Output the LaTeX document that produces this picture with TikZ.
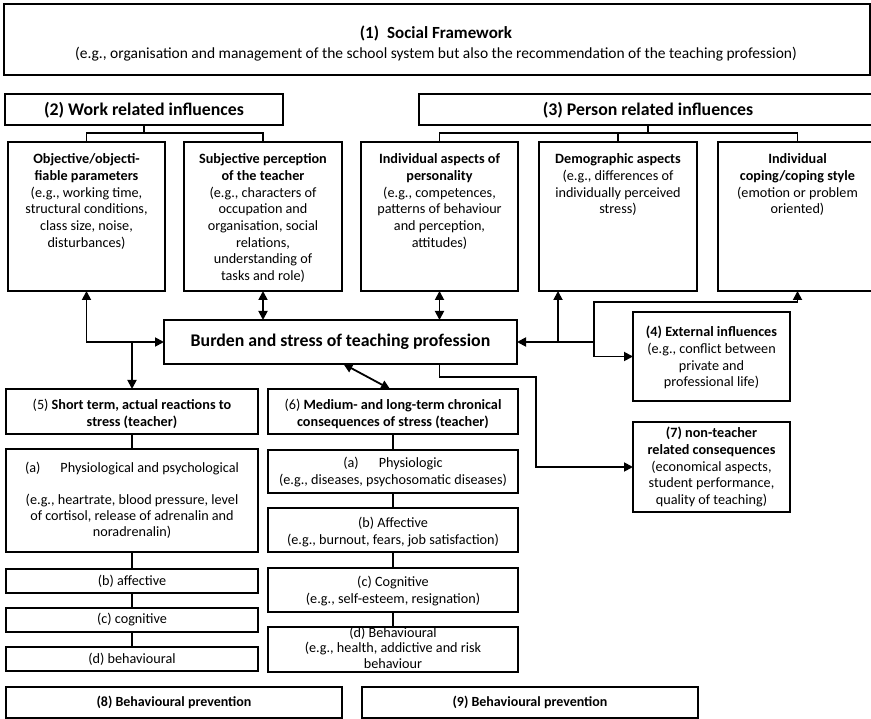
\documentclass[tikz,border=0pt]{standalone}
\usepackage{fontspec}
\setmainfont{Carlito}
\usetikzlibrary{arrows.meta}
% framed panel: name, left, top, right, bottom
\newcommand{\panel}[5]{\node[frame, minimum width={#4-#2}, minimum height={#5-#3}] (#1) at (#2,#3) {};}
\begin{document}
\begin{tikzpicture}[x=1pt,y=-1pt,
  frame/.style={draw, line width=1.8pt, inner sep=0pt, outer sep=0pt, anchor=north west},
  body/.style={font=\fontsize{14.2}{16.7}\selectfont, align=center, inner sep=0pt, anchor=north},
  tight/.style={font=\fontsize{14.2}{15.5}\selectfont, align=center, inner sep=0pt, anchor=north},
  plain/.style={font=\fontsize{14.2}{16}\selectfont, inner sep=0pt},
  head/.style={font=\fontsize{17.8}{20}\selectfont\bfseries, inner sep=0pt},
  small/.style={font=\fontsize{14}{16}\selectfont\bfseries, inner sep=0pt},
  wire/.style={line width=1.8pt},
  arr/.style={wire, -{Triangle[length=9pt,width=9pt]}},
  darr/.style={wire, {Triangle[length=9pt,width=9pt]}-{Triangle[length=9pt,width=9pt]}},
]
\useasboundingbox (0,0) rectangle (871,719);

% ---------- (1) social framework ----------
\panel{social}{4}{4}{870}{75}
\node[font=\fontsize{17}{20}\selectfont\bfseries, inner sep=0pt] (socialt) at (436,33) {(1)\hspace{8pt}Social Framework};
\node[font=\fontsize{15.5}{18}\selectfont, inner sep=0pt] (socials) at (436,54) {(e.g., organisation and management of the school system but also the recommendation of the teaching profession)};

% ---------- (2) work related influences ----------
\panel{work}{5}{94}{283}{125}
\node[head] (workt) at (144,110) {(2) Work related influences};
\panel{obj}{8}{142}{165}{291}
\panel{subj}{184}{142}{342}{291}
\node[body] (objt) at (obj.north |- 0,151.8) {\strut\textbf{Objective/objecti-}\\\textbf{fiable parameters}\\(e.g., working time,\\structural conditions,\\class size, noise,\\disturbances)};
\node[body] (subjt) at (subj.north |- 0,151.8) {\strut\textbf{Subjective perception}\\\textbf{of the teacher}\\(e.g., characters of\\occupation and\\organisation, social\\relations,\\understanding of\\tasks and role)};
\coordinate (wj) at (144,133);
\draw[wire] (work.south) -- (wj);
\draw[wire] (obj.north) |- (wj) -| (subj.north);

% ---------- (3) person related influences ----------
\panel{person}{419}{94}{877}{125}
\node[head] (persont) at (648,110) {(3) Person related influences};
\panel{ind}{361}{142}{518}{291}
\panel{demo}{539}{142}{697}{291}
\panel{cope}{718}{142}{877}{291}
\node[body] (indt) at (ind.north |- 0,151.8) {\strut\textbf{Individual aspects of}\\\textbf{personality}\\(e.g., competences,\\patterns of behaviour\\and perception,\\attitudes)};
\node[body] (demot) at (demo.north |- 0,151.8) {\strut\textbf{Demographic aspects}\\(e.g., differences of\\individually perceived\\stress)};
\node[body] (copet) at (cope.north |- 0,151.8) {\strut\textbf{Individual}\\\textbf{coping/coping style}\\(emotion or problem\\oriented)};
\coordinate (pj) at (648,133);
\draw[wire] (person.south) -- (pj);
\draw[wire] (ind.north) |- (pj) -| (cope.north);
\draw[wire] (demo.north) -- (demo.north |- pj);

% ---------- burden ----------
\panel{burden}{164}{320}{517}{364}
\node[head] (burdent) at (burden.center) {Burden and stress of teaching profession};

% ---------- (4) external influences ----------
\panel{ext}{633}{312}{790}{401}
\node[body] (extt) at (ext.north |- 0,324.8) {\strut\textbf{(4) External influences}\\(e.g., conflict between\\private and\\professional life)};

% ---------- (7) non-teacher consequences ----------
\panel{nt}{633}{422}{790}{512}
\node[body] (ntt) at (nt.north |- 0,425.8) {\strut\textbf{(7) non-teacher}\\\textbf{related consequences}\\(economical aspects,\\student performance,\\quality of teaching)};

% ---------- (5) short term reactions ----------
\panel{s5}{6}{389}{258}{434}
\node[body] (s5t) at (s5.north |- 0,397.8) {\strut(5) \textbf{Short term, actual reactions to}\\\textbf{stress (teacher)}};
\panel{s5a}{6}{449}{258}{552}
\node[body, font=\fontsize{14.2}{16}\selectfont] (s5at) at (s5a.north |- 0,460.8) {\strut(a)\hspace{20pt}Physiological and psychological\\~\\(e.g., heartrate, blood pressure, level\\of cortisol, release of adrenalin and\\noradrenalin)};
\panel{s5b}{6}{569}{258}{593}
\node[plain] (s5bt) at (s5b.center) {(b) affective};
\panel{s5c}{6}{608}{258}{632}
\node[plain] (s5ct) at (s5c.center) {(c) cognitive};
\panel{s5d}{6}{647}{258}{671}
\node[plain] (s5dt) at (s5d.center) {(d) behavioural};
\draw[wire] (s5.south) -- (s5a.north);
\draw[wire] (s5a.south) -- (s5b.north);
\draw[wire] (s5b.south) -- (s5c.north);
\draw[wire] (s5c.south) -- (s5d.north);

% ---------- (6) medium and long term consequences ----------
\panel{s6}{268}{389}{518}{434}
\node[body] (s6t) at (s6.north |- 0,397.8) {\strut(6) \textbf{Medium- and long-term chronical}\\\textbf{consequences of stress (teacher)}};
\panel{s6a}{268}{450}{518}{493}
\node[body] (s6at) at (s6a.north |- 0,455.8) {\strut(a)\hspace{20pt}Physiologic\\(e.g., diseases, psychosomatic diseases)};
\panel{s6b}{268}{508}{518}{552}
\node[body] (s6bt) at (s6b.north |- 0,515.8) {\strut(b) Affective\\(e.g., burnout, fears, job satisfaction)};
\panel{s6c}{268}{568}{518}{612}
\node[body] (s6ct) at (s6c.north |- 0,574.8) {\strut(c) Cognitive\\(e.g., self-esteem, resignation)};
\node[tight] (s6dt) at (393,626.2) {\strut(d) Behavioural\\(e.g., health, addictive and risk\\behaviour};
\panel{s6d}{268}{627}{518}{672}
\draw[wire] (s6.south) -- (s6a.north);
\draw[wire] (s6a.south) -- (s6b.north);
\draw[wire] (s6b.south) -- (s6c.north);
\draw[wire] (s6c.south) -- (s6d.north);

% ---------- (8), (9) prevention ----------
\panel{p8}{6}{687}{342}{718}
\node[small] (p8t) at (p8.center) {(8) Behavioural prevention};
\panel{p9}{362}{687}{698}{718}
\node[small] (p9t) at (p9.center) {(9) Behavioural prevention};

% ---------- connectors around the burden panel ----------
\draw[darr] (obj.south) |- (burden.west);
\draw[arr] (s5.north |- burden.west) -- (s5.north);
\draw[darr] (subj.south) -- (subj.south |- burden.north);
\draw[darr] (ind.south) -- (ind.south |- burden.north);
\draw[darr] ([xshift=3pt]burden.south) -- ([xshift=-3pt]s6.north);

\coordinate (rj) at (594,342);
\coordinate (rk) at (594,302);
\coordinate (dj) at (558,342);
\draw[arr] (rj) -- (burden.east);
\draw[arr] (dj) -- (dj |- demo.south);
\draw[arr] (rj) |- (ext.west);
\draw[arr] (rj) -- (rk) -| (cope.south);

\coordinate (c7) at (536,377);
\draw[arr] (ind.south |- burden.south) |- (c7) |- (nt.west);
\end{tikzpicture}
\end{document}
